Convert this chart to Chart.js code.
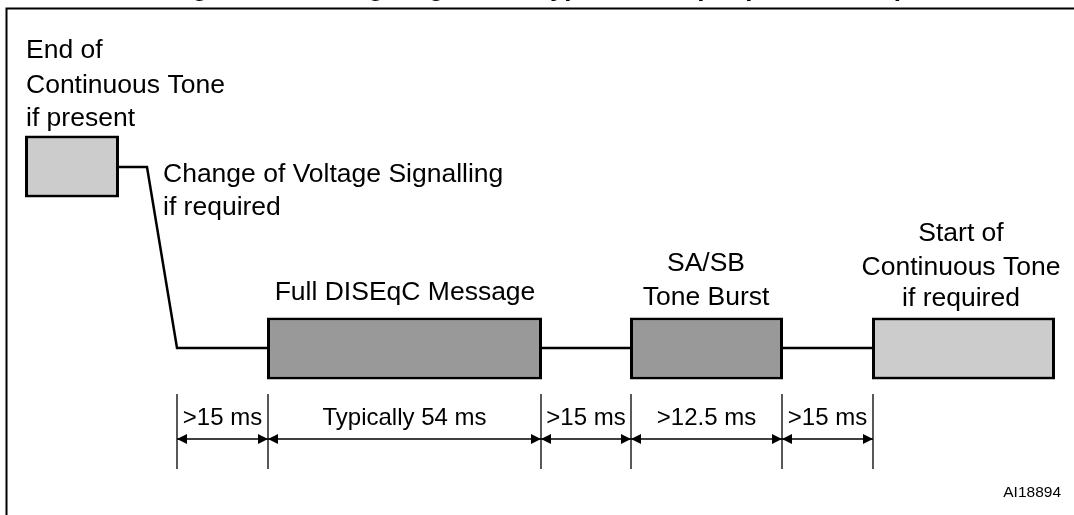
<!DOCTYPE html>
<html>
<head>
<meta charset="utf-8">
<title>DiSEqC timing diagram</title>
<script src="https://cdn.jsdelivr.net/npm/chart.js@4.4.1/dist/chart.umd.min.js"></script>
<style>
  html, body { margin: 0; padding: 0; background: #fff; overflow: hidden; }
  canvas { display: block; }
</style>
</head>
<body>
<canvas id="chart" width="1074" height="515"></canvas>
<script>
// diagram units: x = position along the sequence, y = signal level (both in drawing units)
const boxNames = ['End of tone', 'DiSEqC message', 'Tone burst', 'Start of tone'];
const boxStart = [25, 267, 630, 872];
const boxEnd = [119, 542, 783, 1055];
const boxLevel = [166.5, 348.5, 348.5, 348.5];

const traceX = [119, 147, 177, 267];
const traceY = [167, 167, 348, 348];
const gapStart = [542, 783];
const gapEnd = [630, 872];
const idleLevel = 348;

const timingEdges = [177, 268, 541, 631, 782, 873];
const timingLabels = ['>15 ms', 'Typically 54 ms', '>15 ms', '>12.5 ms', '>15 ms'];
const dimTop = 394;
const dimBottom = 469;
const dimLevel = 439;
const dimText = 425;

const notes = [
    ['End of', 'Continuous Tone', 'if present'],
    ['Change of Voltage Signalling', 'if required'],
    ['Full DISEqC Message'],
    ['SA/SB', 'Tone Burst'],
    ['Start of', 'Continuous Tone', 'if required']
];
const noteX = [26, 163, 405, 706, 961];
const noteY = [[58, 93, 126], [182, 215], [300], [271, 305], [241, 275, 306]];
const noteAlign = ['left', 'left', 'center', 'center', 'center'];

const titleText = 'Figure 10. Timing diagram for typical example (STB to LNB)';
const figureCode = 'AI18894';

const boxFill = ['#cccccc', '#999999', '#999999', '#cccccc'];
const FONT = "'Liberation Sans', Arial, Helvetica, sans-serif";

function pairs(xs, ys) {
    return xs.map((x, i) => ({ x: x, y: ys[i] }));
}

const traceData = pairs(traceX, traceY);
gapStart.forEach((s, i) => {
    traceData.push({ x: null, y: null });
    traceData.push({ x: s, y: idleLevel }, { x: gapEnd[i], y: idleLevel });
});

const extData = [];
timingEdges.forEach(e => {
    extData.push({ x: e, y: dimTop }, { x: e, y: dimBottom }, { x: null, y: null });
});

const dimData = [
    { x: timingEdges[0], y: dimLevel },
    { x: timingEdges[timingEdges.length - 1], y: dimLevel }
];

const annotations = {
    id: 'annotations',
    afterDatasetsDraw(chart) {
        const ctx = chart.ctx;
        const xs = chart.scales.x;
        const ys = chart.scales.y;
        ctx.save();

        // frame
        ctx.strokeStyle = '#000';
        ctx.lineWidth = 2;
        ctx.beginPath();
        ctx.moveTo(6.5, 520);
        ctx.lineTo(6.5, 8.5);
        ctx.lineTo(1080, 8.5);
        ctx.stroke();

        // title, cut off by the top edge
        ctx.fillStyle = '#000';
        ctx.font = 'bold 26px ' + FONT;
        ctx.textAlign = 'left';
        ctx.textBaseline = 'alphabetic';
        ctx.fillText(titleText, 169, -4);

        // notes
        ctx.font = '26.5px ' + FONT;
        notes.forEach((lines, i) => {
            ctx.textAlign = noteAlign[i];
            lines.forEach((t, j) => {
                ctx.fillText(t, xs.getPixelForValue(noteX[i]), ys.getPixelForValue(noteY[i][j]));
            });
        });

        // arrowheads and timing labels
        const yArrow = ys.getPixelForValue(dimLevel);
        ctx.font = '24px ' + FONT;
        ctx.textAlign = 'center';
        for (let i = 0; i < timingLabels.length; i++) {
            const a = xs.getPixelForValue(timingEdges[i]);
            const b = xs.getPixelForValue(timingEdges[i + 1]);
            ctx.beginPath();
            ctx.moveTo(a, yArrow);
            ctx.lineTo(a + 10, yArrow - 5);
            ctx.lineTo(a + 10, yArrow + 5);
            ctx.closePath();
            ctx.moveTo(b, yArrow);
            ctx.lineTo(b - 10, yArrow - 5);
            ctx.lineTo(b - 10, yArrow + 5);
            ctx.closePath();
            ctx.fill();
            ctx.fillText(timingLabels[i], (a + b) / 2, ys.getPixelForValue(dimText));
        }

        ctx.font = '15.5px ' + FONT;
        ctx.textAlign = 'right';
        ctx.fillText(figureCode, 1061, 497);
        ctx.restore();
    }
};

new Chart(document.getElementById('chart'), {
    type: 'scatter',
    data: {
        datasets: [
            {
                type: 'bar',
                label: 'Boxes',
                indexAxis: 'y',
                data: boxNames.map((n, i) => ({ x: [boxStart[i], boxEnd[i]], y: boxLevel[i] })),
                backgroundColor: boxFill,
                borderColor: '#000',
                borderWidth: 3,
                borderSkipped: false,
                barThickness: 62,
                inflateAmount: 0
            },
            {
                type: 'line',
                label: 'Signal',
                data: traceData,
                borderColor: '#000',
                borderWidth: 2.5,
                pointRadius: 0,
                spanGaps: false,
                tension: 0
            },
            {
                type: 'line',
                label: 'Extension',
                data: extData,
                borderColor: '#000',
                borderWidth: 1.3,
                pointRadius: 0,
                spanGaps: false
            },
            {
                type: 'line',
                label: 'Dimension',
                data: dimData,
                borderColor: '#000',
                borderWidth: 1.5,
                pointRadius: 0
            }
        ]
    },
    options: {
        responsive: false,
        animation: false,
        layout: { padding: 0 },
        scales: {
            x: { type: 'linear', min: 0, max: 1074, offset: false, display: false },
            y: { type: 'linear', min: 0, max: 515, reverse: true, offset: false, display: false }
        },
        plugins: {
            legend: { display: false },
            tooltip: { enabled: false },
            title: { display: false }
        }
    },
    plugins: [annotations]
});
</script>
</body>
</html>
